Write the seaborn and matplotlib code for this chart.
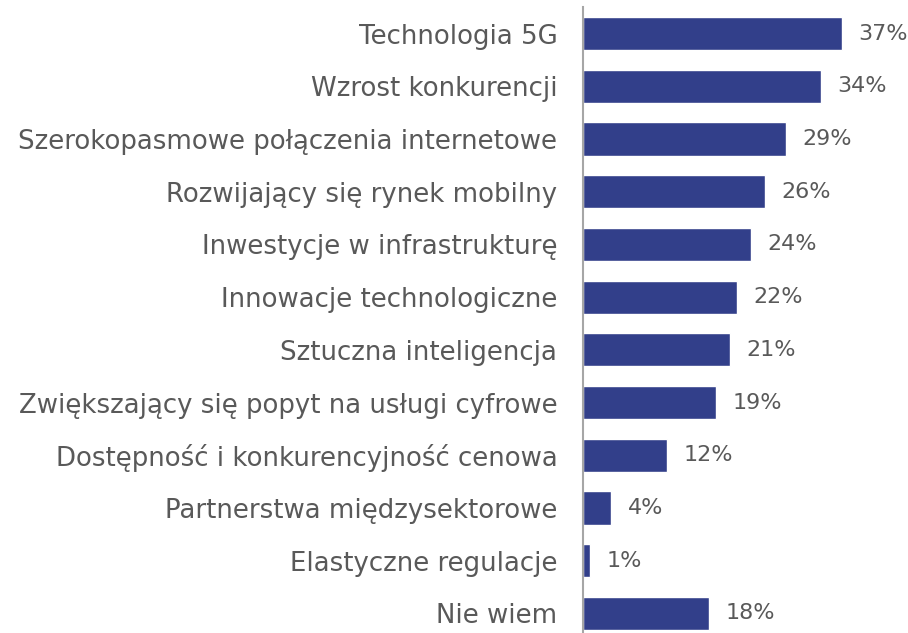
import matplotlib
matplotlib.use("Agg")
import matplotlib.pyplot as plt
import seaborn as sns
import pandas as pd

categories = [
    "Technologia 5G",
    "Wzrost konkurencji",
    "Szerokopasmowe połączenia internetowe",
    "Rozwijający się rynek mobilny",
    "Inwestycje w infrastrukturę",
    "Innowacje technologiczne",
    "Sztuczna inteligencja",
    "Zwiększający się popyt na usługi cyfrowe",
    "Dostępność i konkurencyjność cenowa",
    "Partnerstwa międzysektorowe",
    "Elastyczne regulacje",
    "Nie wiem",
]
values = [37, 34, 29, 26, 24, 22, 21, 19, 12, 4, 1, 18]

df = pd.DataFrame({"kategoria": categories, "procent": values})

sns.set_theme(style="white")
plt.rcParams["font.family"] = ["DejaVu Sans"]

W, H = 908, 633
AX_LEFT, AX_TOP = 583, 7
fig = plt.figure(figsize=(W / 100, H / 100), dpi=100)
ax = fig.add_axes([AX_LEFT / W, 0, 1 - AX_LEFT / W, 1 - AX_TOP / H])

bar_color = "#323F8A"
text_color = "#595959"

sns.barplot(data=df, x="procent", y="kategoria", orient="h",
            color=bar_color, width=0.63, saturation=1, ax=ax)

ax.set_xlim(0, (W - AX_LEFT) / 7.0)
ax.set_ylim(11.37, -0.503)
ax.set_xlabel("")
ax.set_ylabel("")
ax.set_xticks([])
ax.tick_params(axis="y", length=0, pad=18.5, labelsize=18.7, labelcolor=text_color)

for s in ["top", "right", "bottom"]:
    ax.spines[s].set_visible(False)
ax.spines["left"].set_color("#A6A6A6")
ax.spines["left"].set_linewidth(1.5)

for i, v in enumerate(values):
    ax.annotate(f"{v}%", xy=(v, i), xytext=(12, 0), textcoords="offset points",
                va="center", ha="left", fontsize=16, color=text_color)

fig.savefig("out.png", dpi=100)
